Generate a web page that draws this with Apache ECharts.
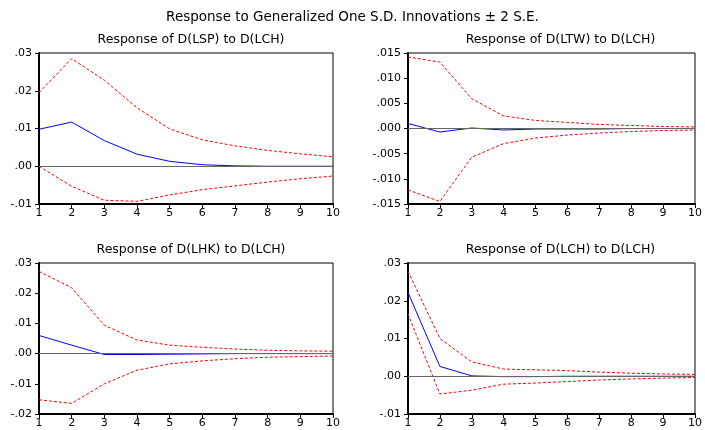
<!DOCTYPE html>
<html>
<head>
<meta charset="utf-8">
<script src="https://cdn.jsdelivr.net/npm/echarts@6/dist/echarts.min.js"></script>
<style>
	body{margin:0;background:#fff;}
	#main{width:705px;height:430px;}
</style>
</head>
<body>
<div id="main"></div>
<script>
	// periods 1..10
	var periods = [1,2,3,4,5,6,7,8,9,10];

	var titles = ['Response of D(LSP) to D(LCH)','Response of D(LTW) to D(LCH)','Response of D(LHK) to D(LCH)','Response of D(LCH) to D(LCH)'];

	var lspResp  = [0.0098,0.0117,0.0068,0.0032,0.0013,0.0004,0.0001,0.0000,0.0000,0.0000];
	var lspUpper = [0.0195,0.0285,0.0228,0.0155,0.0099,0.0070,0.0054,0.0042,0.0033,0.0025];
	var lspLower = [0.0000,-0.0053,-0.0090,-0.0093,-0.0076,-0.0062,-0.0052,-0.0042,-0.0033,-0.0026];

	var ltwResp  = [0.0010,-0.0007,0.0001,-0.0003,-0.0001,-0.0001,-0.0001,0.0000,0.0000,0.0000];
	var ltwUpper = [0.0142,0.0132,0.0059,0.0025,0.0016,0.0012,0.0008,0.0006,0.0004,0.0003];
	var ltwLower = [-0.0122,-0.0145,-0.0057,-0.0030,-0.0019,-0.0013,-0.0009,-0.0006,-0.0004,-0.0003];

	var lhkResp  = [0.0060,0.0028,-0.0003,-0.0003,-0.0002,-0.0001,0.0000,0.0000,0.0000,0.0000];
	var lhkUpper = [0.0272,0.0218,0.0094,0.0045,0.0028,0.0021,0.0015,0.0011,0.0009,0.0008];
	var lhkLower = [-0.0153,-0.0165,-0.0100,-0.0055,-0.0034,-0.0024,-0.0017,-0.0012,-0.0010,-0.0008];

	var lchResp  = [0.0222,0.0026,0.0001,-0.0001,-0.0001,0.0000,0.0000,0.0000,0.0000,0.0000];
	var lchUpper = [0.0278,0.0100,0.0038,0.0019,0.0017,0.0015,0.0011,0.0008,0.0006,0.0005];
	var lchLower = [0.0165,-0.0047,-0.0037,-0.0021,-0.0018,-0.0014,-0.0010,-0.0007,-0.0005,-0.0003];

	var yRanges = [[-0.01,0.03,0.01,2],[-0.015,0.015,0.005,3],[-0.02,0.03,0.01,2],[-0.01,0.03,0.01,2]];
	var panels = [
		[lspResp,lspUpper,lspLower],
		[ltwResp,ltwUpper,ltwLower],
		[lhkResp,lhkUpper,lhkLower],
		[lchResp,lchUpper,lchLower]
	];

	var font = 'DejaVu Sans, Verdana, sans-serif';
	var gridPos = [
		{left:39,top:53,width:294,height:151},
		{left:408,top:53,width:295,height:151},
		{left:39,top:263,width:294,height:151},
		{left:408,top:263,width:295,height:151}
	];

	function pair(arr){
		return periods.map(function(p,i){ return [p,arr[i]]; });
	}

	var option = {
		animation:false,
		title:[{
			text:'Response to Generalized One S.D. Innovations \u00b1 2 S.E.',
			left:'center',top:5,
			textStyle:{fontFamily:font,fontSize:13.5,fontWeight:'normal',color:'#000'}
		}],
		grid:[],xAxis:[],yAxis:[],series:[]
	};

	for(var k=0;k<4;k++){
		var g = gridPos[k];
		option.title.push({
			text:titles[k],
			left:g.left+g.width/2,textAlign:'center',
			top:g.top-25,
			textStyle:{fontFamily:font,fontSize:12.5,fontWeight:'normal',color:'#000'}
		});
		option.grid.push({left:g.left,top:g.top,width:g.width,height:g.height,show:true,borderColor:'#000',borderWidth:1,backgroundColor:'#fff'});
		option.xAxis.push({
			type:'value',gridIndex:k,min:1,max:10,interval:1,
			axisLine:{onZero:false,lineStyle:{color:'#000',width:2}},
			axisTick:{length:4,lineStyle:{color:'#000'}},
			axisLabel:{fontFamily:font,fontSize:11,color:'#000',margin:4},
			splitLine:{show:false}
		});
		var r = yRanges[k];
		option.yAxis.push({
			type:'value',gridIndex:k,min:r[0],max:r[1],interval:r[2],
			axisLine:{show:true,onZero:false,lineStyle:{color:'#000',width:2}},
			axisTick:{show:true,length:4,lineStyle:{color:'#000'}},
			axisLabel:{fontFamily:font,fontSize:11,color:'#000',margin:7,
				formatter:(function(d){return function(v){
					var s = Math.abs(v).toFixed(d).replace(/^0/,'');
					return (v<-1e-9?'-':'')+s;
				};})(r[3])},
			splitLine:{show:false}
		});
		var d = panels[k];
		option.series.push({
			type:'line',xAxisIndex:k,yAxisIndex:k,data:pair(d[0]),
			symbol:'none',lineStyle:{color:'#0000ff',width:1},
			markLine:{silent:true,symbol:'none',label:{show:false},
				lineStyle:{color:'#666',type:'solid',width:1},data:[{yAxis:0}]},
			z:3
		});
		option.series.push({
			type:'line',xAxisIndex:k,yAxisIndex:k,data:pair(d[1]),
			symbol:'none',lineStyle:{color:'#ff0000',width:1,type:[3,2]}
		});
		option.series.push({
			type:'line',xAxisIndex:k,yAxisIndex:k,data:pair(d[2]),
			symbol:'none',lineStyle:{color:'#ff0000',width:1,type:[3,2]}
		});
	}

	var chart = echarts.init(document.getElementById('main'));
	chart.setOption(option);
</script>
</body>
</html>
